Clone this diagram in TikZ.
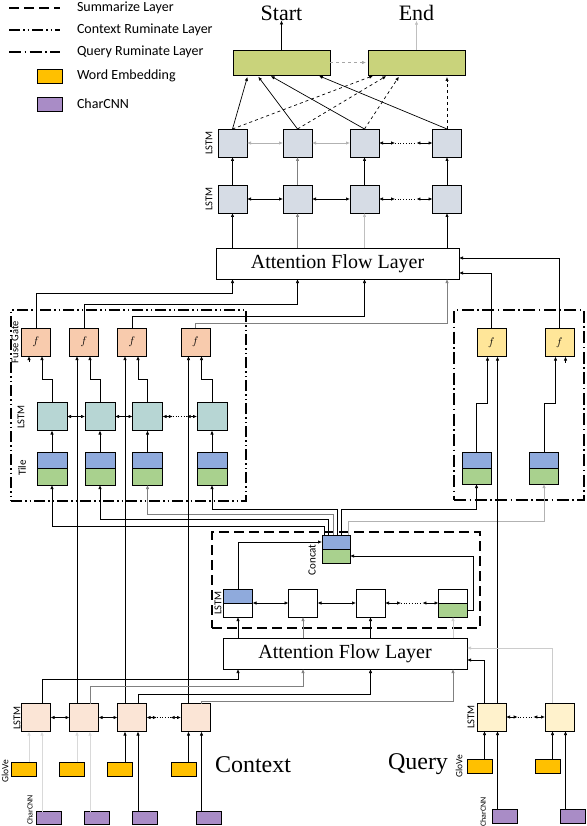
\documentclass[tikz,border=0pt]{standalone}
\usepackage{fontspec}
\setmainfont{Liberation Serif}
\newfontfamily\calibri{Carlito}
\usetikzlibrary{arrows.meta,calc}

\definecolor{outgreen}{HTML}{C9D37B}
\definecolor{hlgray}{HTML}{D6DCE5}
\definecolor{fusepeach}{HTML}{F8CBAD}
\definecolor{lstmteal}{HTML}{B7D6D4}
\definecolor{tileblue}{HTML}{8FAADC}
\definecolor{tilegreen}{HTML}{A9D18E}
\definecolor{fuseyellow}{HTML}{FFE699}
\definecolor{ctxpeach}{HTML}{FBE5D6}
\definecolor{qrycream}{HTML}{FFF2CC}
\definecolor{glovegold}{HTML}{FFC000}
\definecolor{cnnpurple}{HTML}{A98CC6}

\tikzset{
  >={Latex[length=4pt,width=3.4pt]},
  every node/.style={inner sep=0pt,outer sep=0pt},
  conn/.style={line width=0.7pt},
  cellbox/.style={draw,line width=0.8pt,minimum width=29pt,minimum height=28pt},
  lowfill/.style={path picture={
      \fill[#1] (path picture bounding box.west) rectangle (path picture bounding box.south east);
      \draw[line width=0.8pt] (path picture bounding box.west) -- (path picture bounding box.east);}},
  tilebox/.style={cellbox,fill=tileblue,lowfill=tilegreen,minimum width=30pt,minimum height=33pt},
  fusebox/.style={cellbox,font=\fontsize{11}{12}\selectfont},
  embbox/.style={draw,line width=0.8pt,minimum width=25pt,minimum height=14pt},
  aflbox/.style={draw,line width=0.8pt,fill=white,minimum height=31pt,font=\fontsize{20}{22}\selectfont},
  bigtext/.style={font=\fontsize{22}{24}\selectfont},
  legtext/.style={anchor=west,font=\calibri\fontsize{14}{16}\selectfont},
  lbl/.style={rotate=90,font=\calibri\fontsize{10.5}{12}\selectfont},
  sumline/.style={line width=1.6pt,dash pattern=on 10pt off 5pt},
  ctxline/.style={line width=1.3pt,dash pattern=on 11pt off 3pt on 1.5pt off 3pt on 1.5pt off 3pt},
  qryline/.style={line width=1.3pt,dash pattern=on 12pt off 3.5pt on 1.5pt off 3.5pt},
}

\begin{document}
\begin{tikzpicture}[x=1pt,y=-1pt]
\useasboundingbox (0,0) rectangle (586,826);

% legend
\draw[sumline] (9,8) -- (60,8);
\node[legtext] (leg1) at (77,8) {Summarize Layer};
\draw[ctxline] (9,30) -- (60,30);
\node[legtext] (leg2) at (77,30) {Context Ruminate Layer};
\draw[qryline] (9,52) -- (60,52);
\node[legtext] (leg3) at (77,52) {Query Ruminate Layer};
\node[embbox,fill=glovegold] (legw) at (49.5,76) {};
\node[legtext] (leg4) at (77,76) {Word Embedding};
\node[embbox,fill=cnnpurple] (legc) at (49.5,104) {};
\node[legtext] (leg5) at (77,104) {CharCNN};

% output layer
\node[cellbox,fill=outgreen,minimum width=97pt,minimum height=25pt] (startbox) at (281.5,62.5) {};
\node[cellbox,fill=outgreen,minimum width=97pt,minimum height=25pt] (endbox) at (416.5,62.5) {};
\node[bigtext] (starttxt) at (281.5,13) {Start};
\node[bigtext] (endtxt) at (416.5,13) {End};
\draw[conn,->] (startbox.north) -- (starttxt.south);
\draw[conn,->,gray!50] (endbox.north) -- (endtxt.south);
\draw[conn,->,dashed,gray!70,shorten >=2pt] (startbox) -- (endbox);

% modeling layer
\foreach \i/\x in {1/232.5,2/297.5,3/364.5,4/447}{
  \node[cellbox,fill=hlgray] (ma\i) at (\x,143) {};
  \node[cellbox,fill=hlgray] (mb\i) at (\x,199) {};
}
\node[lbl] at (209,143) {LSTM};
\node[lbl] at (209,199) {LSTM};
\node[aflbox,minimum width=243pt] (afl1) at (337.5,263.5) {Attention Flow Layer};

\foreach \i/\c in {1/black,2/gray,3/black,4/black}
  \draw[conn,->,\c] (mb\i.north) -- (ma\i.south);
\foreach \i/\c in {1/black,2/gray,3/gray!50,4/black}
  \draw[conn,->,\c] (mb\i |- afl1.north) -- (mb\i.south);
\draw[conn,<->,gray!60] (ma1) -- (ma2);
\draw[conn,<->,gray!60] (ma2) -- (ma3);
\draw[conn,<->] (mb1) -- (mb2);
\draw[conn,<->] (mb2) -- (mb3);

\draw[conn,->,shorten >=2pt] (ma1.north) -- ([xshift=15pt]startbox.south west);
\draw[conn,->,shorten >=2pt] (ma2.north) -- ([xshift=24pt]startbox.south west);
\draw[conn,->,shorten >=2pt] (ma3.north) -- ([xshift=36pt]startbox.south west);
\draw[conn,->,shorten >=2pt] (ma4.north) -- ([xshift=84pt]startbox.south west);
\draw[conn,->,dashed,shorten >=2pt] (ma1.north) -- ([xshift=7pt]endbox.south west);
\draw[conn,->,dashed,shorten >=2pt] (ma2.north) -- ([xshift=20pt]endbox.south west);
\draw[conn,->,dashed,shorten >=2pt] (ma3.north) -- ([xshift=32pt]endbox.south west);
\draw[conn,->,dashed,shorten >=2pt] (ma4.north) -- (ma4.north |- endbox.south);

% context ruminate layer
\node[ctxline,draw,minimum width=235pt,minimum height=191pt] (ctxrum) at (128.5,405.5) {};
\foreach \i/\x/\r in {1/36/52,2/84/100,3/132/147.5,4/195.5/212}{
  \node[fusebox,fill=fusepeach] (f\i) at (\x,342) {$f$};
  \node[cellbox,fill=lstmteal,minimum width=30pt] (r\i) at (\r,416.5) {};
  \node[tilebox] (t\i) at (\r,468.5) {};
  \draw[conn,->] (t\i) -- (r\i);
  \draw[conn,->] (r\i.north) -- ++(0,-23) -| ([xshift=6pt]f\i.south);
}
\node[lbl] at (15,342) {Fuse Gate};
\node[lbl] at (21,417) {LSTM};
\node[lbl,font=\calibri\fontsize{11}{12}\selectfont] at (22,468) {Tile};
\draw[conn,<->] (r1) -- (r2);
\draw[conn,<->] (r2) -- (r3);
\foreach \i/\y/\c in {1/293/black,2/304/black,3/316/black,4/323/gray}
  \draw[conn,->,\c] (f\i.north) -- (f\i.north |- 0,\y) -| (mb\i |- afl1.south);
\draw[conn,->] ([xshift=-7pt,yshift=-6pt]f1.south) -- ([xshift=-7pt]f1.south);

% query ruminate layer
\node[qryline,draw,minimum width=130pt,minimum height=190pt] (qryrum) at (519,405) {};
\node[fusebox,fill=fuseyellow] (qf1) at (491.5,342.5) {$f$};
\node[fusebox,fill=fuseyellow] (qf2) at (559.5,342.5) {$f$};
\node[tilebox,minimum width=29pt,minimum height=32pt] (qt1) at (476.5,468) {};
\node[tilebox,minimum width=29pt,minimum height=32pt] (qt2) at (544,468) {};
\draw[conn,->] (qt1.north) -- ++(0,-49) -| ([xshift=-4pt]qf1.south);
\draw[conn,->] (qt2.north) -- ++(0,-49) -| ([xshift=-4pt]qf2.south);
\draw[conn,->] (qf1.north) |- ([yshift=-9.5pt]afl1.east);
\draw[conn,->] (qf2.north) |- ([yshift=5.5pt]afl1.east);
\draw[conn,->] ([xshift=6pt,yshift=-6pt]qf2.south) -- ([xshift=6pt]qf2.south);

% summarize layer
\node[sumline,draw,minimum width=268pt,minimum height=96pt] (sumbox) at (346,580) {};
\node[tilebox,minimum width=28pt,minimum height=28pt] (cc) at (336,549) {};
\node[lbl,font=\calibri\fontsize{11}{12}\selectfont] at (312,560) {Concat};
\node[cellbox,fill=tileblue,lowfill=white] (s1) at (238,603) {};
\node[cellbox,fill=white] (s2) at (303,603) {};
\node[cellbox,fill=white] (s3) at (370.5,603) {};
\node[cellbox,fill=white,lowfill=tilegreen] (s4) at (453,603) {};
\node[lbl] at (218,603) {LSTM};
\draw[conn,<->] (s1) -- (s2);
\draw[conn,<->] (s2) -- (s3);
\draw[conn,->] (s1.north) |- ([yshift=7pt]cc.west);
\draw[conn,->] ([yshift=-7pt]s4.east) -- ++(6,0) |- ([yshift=-7pt]cc.east);

\draw[conn,->] ([xshift=-12pt]cc.north) -- ++(0,-9) -| (t1.south);
\draw[conn,->] ([xshift=-8pt]cc.north) -- ++(0,-16) -| (t2.south);
\draw[conn,->,gray] ([xshift=-3pt]cc.north) -- ++(0,-21) -| (t3.south);
\draw[conn,->] ([xshift=1pt]cc.north) -- ++(0,-26) -| (t4.south);
\draw[conn,->] ([xshift=5pt]cc.north) -- ++(0,-26) -| (qt1.south);
\draw[conn,->,gray!60] ([xshift=12pt]cc.north) -- ++(0,-14) -| (qt2.south);

% attention flow layer
\node[aflbox,minimum width=244pt] (afl2) at (345,653.5) {Attention Flow Layer};
\foreach \s/\c in {s1/black,s2/gray,s3/black,s4/gray!40}
  \draw[conn,->,\c] (\s |- afl2.north) -- (\s.south);

% contextual embedding layer
\foreach \i/\x/\c in {1/36/gray!30,2/84/gray!30,3/132/black,4/195.5/black}{
  \node[cellbox,fill=ctxpeach] (e\i) at (\x,717.5) {};
  \node[embbox,fill=glovegold] (g\i) at (\x-12,769) {};
  \node[embbox,fill=cnnpurple,minimum height=13pt] (c\i) at (\x+13,818) {};
  \draw[conn,->,\c] ([xshift=5pt]g\i.north) -- ([xshift=-7pt]e\i.south);
  \draw[conn,->,\c] ([xshift=-7pt]c\i.north) -- ([xshift=6pt]e\i.south);
}
\draw[conn,<->] (e1) -- (e2);
\draw[conn,<->] (e2) -- (e3);
\foreach \i in {2,3,4}
  \draw[conn,->] ([xshift=-7pt]e\i.north) -- ([xshift=-7pt]f\i.south);
\foreach \i/\dy/\c in {1/24/black,2/17/gray,3/9/black,4/2/gray}
  \draw[conn,->,\c] ([xshift=6pt]e\i.north) -- ++(0,-\dy) -| (s\i |- afl2.south);
\node[lbl] at (17,718) {LSTM};
\node[lbl,font=\calibri\fontsize{9.5}{11}\selectfont] at (5,771) {GloVe};
\node[lbl,font=\calibri\fontsize{8}{9}\selectfont] at (30,810) {CharCNN};
\node[font=\fontsize{24}{26}\selectfont] (ctxtxt) at (253,765) {Context};

\node[cellbox,fill=qrycream] (ql1) at (491.5,717) {};
\node[cellbox,fill=qrycream] (ql2) at (559.5,717) {};
\foreach \i in {1,2}{
  \node[embbox,fill=glovegold] (qg\i) at ($(ql\i)+(-12,49.5)$) {};
  \node[embbox,fill=cnnpurple] (qc\i) at ($(ql\i)+(13,99)$) {};
  \draw[conn,->] ([xshift=5pt]qg\i.north) -- ([xshift=-7pt]ql\i.south);
  \draw[conn,->] ([xshift=-7pt]qc\i.north) -- ([xshift=6pt]ql\i.south);
}
\draw[conn,->] ([xshift=6pt]ql1.north) -- ([xshift=6pt]qf1.south);
\draw[conn,->] ([xshift=-7pt]ql1.north) |- ([yshift=-6.5pt]afl2.east);
\draw[conn,->,gray!40] ([xshift=-7pt]ql2.north) |- ([yshift=5.5pt]afl2.east);
\node[lbl] at (471,717) {LSTM};
\node[lbl,font=\calibri\fontsize{9.5}{11}\selectfont] at (459,766) {GloVe};
\node[lbl,font=\calibri\fontsize{8}{9}\selectfont] at (483,812) {CharCNN};
\node[font=\fontsize{24}{26}\selectfont] (qrytxt) at (418,764) {Query};

% dotted recurrent links
\foreach \a/\b in {ma3/ma4,mb3/mb4,r3/r4,s3/s4,e3/e4,ql1/ql2}{
  \draw[conn,<->] (\a.east) -- ($(\a.east)!0.3!(\b.west)$);
  \draw[conn,dotted] ($(\a.east)!0.3!(\b.west)$) -- ($(\a.east)!0.7!(\b.west)$);
  \draw[conn,<->] ($(\a.east)!0.7!(\b.west)$) -- (\b.west);
}
\end{tikzpicture}
\end{document}
